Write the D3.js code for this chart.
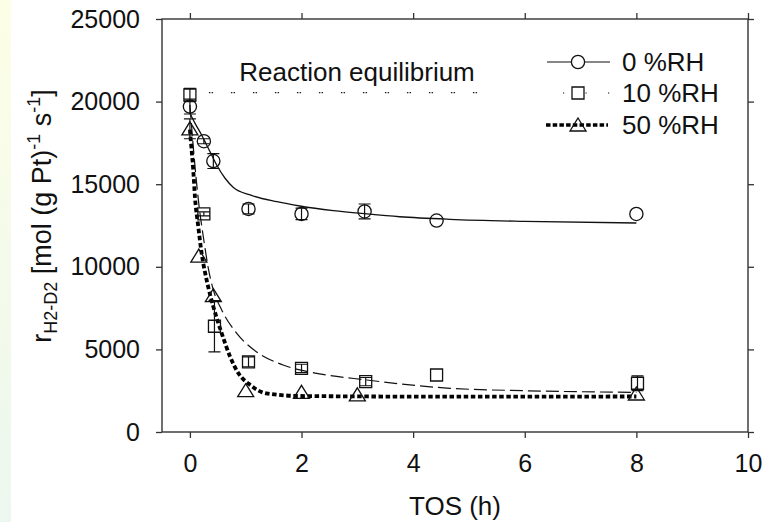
<!DOCTYPE html>
<html>
<head>
<meta charset="utf-8">
<script src="https://cdn.jsdelivr.net/npm/d3@7"></script>
<style>
  html, body { margin: 0; padding: 0; background: #fff; }
  svg { display: block; font-family: "Liberation Sans", Arial, sans-serif; }
</style>
</head>
<body>
<svg id="chart" width="779" height="522"></svg>
<script>
// measured points, TOS in h, rate in mol (g Pt)^-1 s^-1
var tos0 = [0, 0.25, 0.42, 1.05, 2, 3.13, 4.42, 8];
var rate0 = [19700, 17600, 16400, 13500, 13200, 13350, 12800, 13200];
var err0 = [450, 150, 450, 300, 350, 450, 0, 0];

var tos10 = [0, 0.25, 0.44, 1.05, 2, 3.15, 4.42, 8.02];
var rate10 = [20400, 13200, 6400, 4250, 3850, 3050, 3450, 2950];
var err10 = [400, 120, 1550, 300, 250, 250, 0, 450];

var tos50 = [0, 0.16, 0.42, 1.0, 2, 3, 8];
var rate50 = [18350, 10650, 8250, 2500, 2400, 2250, 2300];
var err50 = [600, 0, 0, 0, 0, 0, 0];

// fitted curves
var fitTos0 = [0, 0.09, 0.21, 0.3, 0.39, 0.48, 0.63, 0.78, 1.08, 1.56, 1.97, 2.57, 3.17, 3.76, 4.66, 6, 8];
var fitRate0 = [19300, 18700, 17980, 17370, 16770, 16160, 15360, 14800, 14350, 13940, 13680, 13400, 13200, 13030, 12875, 12750, 12650];

var fitTos10 = [0, 0.08, 0.16, 0.25, 0.33, 0.42, 0.57, 0.84, 1.19, 1.67, 2.27, 3.17, 4.66, 6, 8];
var fitRate10 = [19800, 16500, 13800, 11600, 9900, 8600, 7385, 5974, 4861, 4056, 3553, 3148, 2645, 2500, 2400];

var fitTos50 = [0, 0.03, 0.06, 0.09, 0.15, 0.21, 0.3, 0.42, 0.57, 0.72, 0.87, 1.08, 1.37, 1.97, 4.66, 8];
var fitRate50 = [18300, 17100, 15860, 14245, 12430, 10817, 9200, 7585, 5974, 4560, 3552, 2845, 2340, 2179, 2139, 2150];

var equilibriumTos = [0.34, 5.15];
var equilibriumRate = [20540, 20540];

var xTicks = [0, 2, 4, 6, 8, 10];
var yTicks = [0, 5000, 10000, 15000, 20000, 25000];
var seriesNames = ["0 %RH", "10 %RH", "50 %RH"];

var svg = d3.select("#chart");
var plotL = 162, plotR = 748, plotT = 19, plotB = 432;

var x = d3.scaleLinear().domain([-0.5, 10]).range([plotL, plotR]);
var y = d3.scaleLinear().domain([0, 25000]).range([plotB, plotT]);

// faint strip on the left edge
var grad = svg.append("defs").append("linearGradient")
  .attr("id", "strip").attr("x1", 0).attr("y1", 0).attr("x2", 0).attr("y2", 1);
grad.append("stop").attr("offset", "0%").attr("stop-color", "#fdfee6");
grad.append("stop").attr("offset", "100%").attr("stop-color", "#ecf7ef");
svg.append("rect").attr("x", 0).attr("y", 0).attr("width", 11).attr("height", 522)
  .attr("fill", "url(#strip)");

function styleAxis(g) {
  g.select(".domain").remove();
  g.selectAll(".tick line").attr("stroke", "#333").attr("stroke-width", 1.3);
  g.selectAll(".tick text").attr("fill", "#111").style("font-size", "25px")
    .style("font-family", "'Liberation Sans', Arial, sans-serif");
}

svg.append("g").attr("transform", "translate(0," + plotB + ")")
  .call(d3.axisBottom(x).tickValues(xTicks).tickSize(6).tickPadding(16).tickFormat(d3.format("d")))
  .call(styleAxis);
svg.append("g").attr("transform", "translate(0," + plotT + ")")
  .call(d3.axisTop(x).tickValues(xTicks).tickSize(6).tickFormat(""))
  .call(styleAxis);
svg.append("g").attr("transform", "translate(" + plotL + ",0)")
  .call(d3.axisLeft(y).tickValues(yTicks).tickSize(6).tickPadding(16).tickFormat(d3.format("d")))
  .call(styleAxis);
svg.append("g").attr("transform", "translate(" + plotR + ",0)")
  .call(d3.axisRight(y).tickValues(yTicks).tickSize(6).tickFormat(""))
  .call(styleAxis);

svg.append("rect").attr("x", plotL).attr("y", plotT)
  .attr("width", plotR - plotL).attr("height", plotB - plotT)
  .attr("fill", "none").attr("stroke", "#333").attr("stroke-width", 1.4);

// equilibrium line and its label
svg.append("line")
  .attr("x1", x(equilibriumTos[0])).attr("x2", x(equilibriumTos[1]))
  .attr("y1", y(equilibriumRate[0])).attr("y2", y(equilibriumRate[1]))
  .attr("stroke", "#222").attr("stroke-width", 1.3)
  .attr("stroke-dasharray", "1.5,1.2,1.5,17.8");
svg.append("text").attr("x", 357).attr("y", 81).attr("text-anchor", "middle")
  .style("font-size", "26px").attr("fill", "#111").text("Reaction equilibrium");

function fitLine(ts, vs) {
  return d3.line().curve(d3.curveMonotoneX)
    .x(function(d) { return x(d); })
    .y(function(d, i) { return y(vs[i]); })(ts);
}

svg.append("path").attr("d", fitLine(fitTos0, fitRate0))
  .attr("fill", "none").attr("stroke", "#111").attr("stroke-width", 1.3);
svg.append("path").attr("d", fitLine(fitTos10, fitRate10))
  .attr("fill", "none").attr("stroke", "#111").attr("stroke-width", 1.2)
  .attr("stroke-dasharray", "13,5");
svg.append("path").attr("d", fitLine(fitTos50, fitRate50))
  .attr("fill", "none").attr("stroke", "#000").attr("stroke-width", 3.8)
  .attr("stroke-dasharray", "4.5,2.6");

var symCircle = d3.symbol().type(d3.symbolCircle).size(Math.PI * 6.6 * 6.6);
var symSquare = d3.symbol().type(d3.symbolSquare).size(12 * 12);
function triPath() {
  return "M0,-7L8,6L-8,6Z";
}

function drawSeries(ts, vs, es, shape) {
  var g = svg.append("g");
  var rows = ts.map(function(t, i) { return { t: t, v: vs[i], e: es[i] }; });
  var bars = g.selectAll(".err").data(rows.filter(function(d) { return d.e > 0; }))
    .enter().append("g").attr("class", "err");
  bars.append("path")
    .attr("d", function(d) {
      var cx = x(d.t), y1 = y(d.v + d.e), y2 = y(d.v - d.e);
      return "M" + cx + "," + y1 + "V" + y2 +
        "M" + (cx - 6) + "," + y1 + "H" + (cx + 6) +
        "M" + (cx - 6) + "," + y2 + "H" + (cx + 6);
    })
    .attr("fill", "none").attr("stroke", "#111").attr("stroke-width", 1.2);
  g.selectAll(".pt").data(rows).enter().append("path").attr("class", "pt")
    .attr("transform", function(d) { return "translate(" + x(d.t) + "," + y(d.v) + ")"; })
    .attr("d", shape)
    .attr("fill", "none").attr("stroke", "#111").attr("stroke-width", 1.3);
}

drawSeries(tos0, rate0, err0, symCircle);
drawSeries(tos10, rate10, err10, symSquare);
drawSeries(tos50, rate50, err50, triPath);

// legend
var legX1 = 547, legX2 = 610, legMid = 578, legRows = [62, 93, 125];
var leg = svg.append("g");
leg.append("line").attr("x1", legX1).attr("x2", legX2).attr("y1", legRows[0]).attr("y2", legRows[0])
  .attr("stroke", "#111").attr("stroke-width", 1.2);
leg.append("path").attr("transform", "translate(" + legMid + "," + legRows[0] + ")")
  .attr("d", symCircle).attr("fill", "#fff").attr("stroke", "#111").attr("stroke-width", 1.3);
leg.append("line").attr("x1", 563).attr("x2", legX2).attr("y1", legRows[1]).attr("y2", legRows[1])
  .attr("stroke", "#111").attr("stroke-width", 1.2).attr("stroke-dasharray", "1.2,21.3");
leg.append("path").attr("transform", "translate(" + legMid + "," + legRows[1] + ")")
  .attr("d", symSquare).attr("fill", "#fff").attr("stroke", "#111").attr("stroke-width", 1.3);
leg.append("line").attr("x1", 546).attr("x2", 608).attr("y1", legRows[2]).attr("y2", legRows[2])
  .attr("stroke", "#000").attr("stroke-width", 3.4).attr("stroke-dasharray", "4.5,2.2");
leg.append("path").attr("transform", "translate(" + legMid + "," + legRows[2] + ")")
  .attr("d", triPath).attr("fill", "none").attr("stroke", "#111").attr("stroke-width", 1.3);
leg.selectAll("text").data(seriesNames).enter().append("text")
  .attr("x", 622).attr("y", function(d, i) { return legRows[i] + 9; })
  .style("font-size", "26px").attr("fill", "#111").text(function(d) { return d; });

// axis titles
svg.append("text").attr("x", 455).attr("y", 515).attr("text-anchor", "middle")
  .style("font-size", "26px").attr("fill", "#111").text("TOS (h)");

var yt = svg.append("text").attr("transform", "translate(51,216) rotate(-90)")
  .attr("text-anchor", "middle").style("font-size", "27px").attr("fill", "#111");
yt.append("tspan").text("r");
yt.append("tspan").attr("dy", 6).style("font-size", "18px").text("H2-D2");
yt.append("tspan").attr("dy", -6).text(" [mol (g Pt)");
yt.append("tspan").attr("dy", -11).style("font-size", "18px").text("-1");
yt.append("tspan").attr("dy", 11).text(" s");
yt.append("tspan").attr("dy", -11).style("font-size", "18px").text("-1");
yt.append("tspan").attr("dy", 11).text("]");
</script>
</body>
</html>
